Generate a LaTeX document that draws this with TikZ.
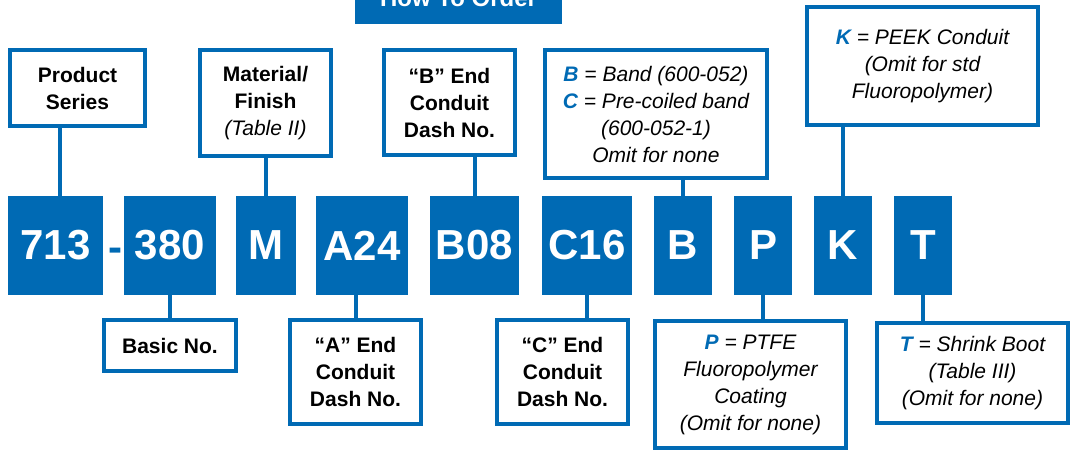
\documentclass[tikz,border=0pt]{standalone}
\usepackage{fontspec}
\setmainfont{Liberation Sans}
\definecolor{ordblue}{RGB}{0,106,180}
\newcommand{\optkey}[1]{\textcolor{ordblue}{\bfseries #1}}
\tikzset{
  codebox/.style={
    fill=ordblue,
    text=white,
    inner sep=0pt,
    minimum height=99pt,
    font=\bfseries\fontsize{42}{42}\selectfont
  },
  infobox/.style={
    draw=ordblue,
    line width=4pt,
    fill=white,
    align=center,
    inner sep=0pt,
    font=\bfseries\fontsize{21}{27}\selectfont
  },
  optbox/.style={infobox, font=\itshape\fontsize{21}{27}\selectfont},
  conn/.style={draw=ordblue, line width=4pt}
}

\begin{document}
\begin{tikzpicture}[x=1pt, y=-1pt]
  \useasboundingbox (0,0) rectangle (1073,453);
  \clip (0,0) rectangle (1073,453);
  % title, cut by the top edge
  \node[codebox, minimum width=207pt, minimum height=38pt, text height=21pt, text depth=17pt,
        font=\bfseries\fontsize{24}{24}\selectfont, anchor=south] (title) at (458.5,24) {How To Order};
  % part number row
  \foreach \name/\txt/\cx/\w in {c713/713/55.5/95, c380/380/170/92, cM/M/266/60, cA24/A24/362/92,
      cB08/B08/474.5/89, cC16/C16/587/90, cB/B/683/58, cP/P/763/58, cK/K/843/58, cT/T/923/58}
    \node[codebox, minimum width=\w] (\name) at (\cx,245.5) {\txt};
  \node[text=ordblue, inner sep=0pt, anchor=base, font=\bfseries\fontsize{42}{42}\selectfont] (dash) at (115.5,261) {-};
  % boxes above
  \node[infobox, minimum width=135, minimum height=76] (series) at (77.5,88) {Product\\Series};
  \node[infobox, minimum width=131, minimum height=106] (material) at (265.5,103) {Material/\\Finish\\{\mdseries\itshape (Table II)}};
  \node[infobox, minimum width=131, minimum height=105] (bend) at (449.5,102.5) {“B” End\\Conduit\\Dash No.};
  \node[optbox, minimum width=222, minimum height=128] (band) at (656,114) {\optkey{B} = Band (600-052)\\\optkey{C} = Pre-coiled band\\(600-052-1)\\Omit for none};
  \node[optbox, minimum width=231, minimum height=118] (peek) at (922.5,66) {\optkey{K} = PEEK Conduit\\(Omit for std\\Fluoropolymer)};
  % boxes below
  \node[infobox, minimum width=132, minimum height=51] (basic) at (170,345.5) {Basic No.};
  \node[infobox, minimum width=131, minimum height=104] (aend) at (355.5,372) {“A” End\\Conduit\\Dash No.};
  \node[infobox, minimum width=131, minimum height=104] (cend) at (562.5,372) {“C” End\\Conduit\\Dash No.};
  \node[optbox, minimum width=191, minimum height=127] (ptfe) at (750.5,384.5) {\optkey{P} = PTFE\\Fluoropolymer\\Coating\\(Omit for none)};
  \node[optbox, minimum width=191, minimum height=100] (boot) at (972.5,373) {\optkey{T} = Shrink Boot\\(Table III)\\(Omit for none)};
  % connectors
  \draw[conn] ([xshift=4.5pt]c713.north) -- ([xshift=4.5pt]c713.north |- series.south);
  \draw[conn] (material.south -| cM) -- (cM.north);
  \draw[conn] (bend.south -| cB08) -- (cB08.north);
  \draw[conn] (band.south -| cB) -- (cB.north);
  \draw[conn] (peek.south -| cK) -- (cK.north);
  \draw[conn] (c380.south) -- (c380.south |- basic.north);
  \draw[conn] (aend.north) -- (aend.north |- cA24.south);
  \draw[conn] (cC16.south) -- (cC16.south |- cend.north);
  \draw[conn] (cP.south) -- (cP.south |- ptfe.north);
  \draw[conn] (cT.south) -- (cT.south |- boot.north);
\end{tikzpicture}
\end{document}
